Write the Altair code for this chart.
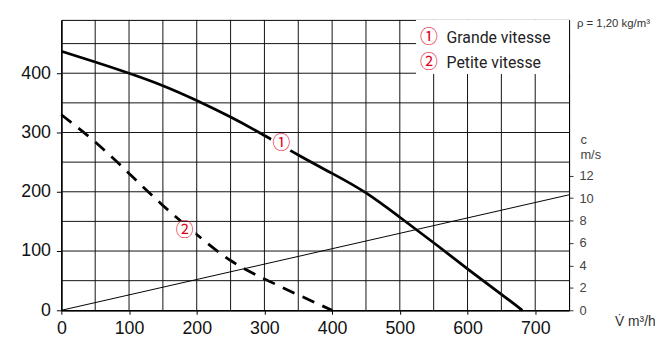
import altair as alt
import pandas as pd

# ---- data ----
flow1 = [0, 50, 100, 150, 200, 250, 300, 350, 400, 450, 500, 550, 600, 650, 681]
press1 = [437, 419, 400, 379, 354, 326, 295, 262, 231, 198, 157, 114, 70, 27, 0]

flow2 = [0, 50, 100, 150, 200, 250, 300, 350, 400]
press2 = [330, 284, 231, 177, 128, 84, 53, 26, 0]

vel_flow = [0, 750]
vel_c = [0, 10.3]

x_ticks = [0, 100, 200, 300, 400, 500, 600, 700]
y_ticks = [0, 100, 200, 300, 400]
c_ticks = [0, 2, 4, 6, 8, 10, 12]
grid_x = [50, 100, 150, 200, 250, 300, 350, 400, 450, 500, 550, 600, 650, 700]
grid_y = [50, 100, 150, 200, 250, 300, 350, 400, 450]

curve_lbl_flow = [325, 182]
curve_lbl_press = [281, 133]
curve_lbl_txt = ["\u2460", "\u2461"]

legend_flow = [543, 569]
legend_press = [459, 418]
legend_names = ["Grande vitesse", "Petite vitesse"]

rho_txt = "\u03c1 = 1,20 kg/m\u00b3"

FONT = "Liberation Sans"
RED = "#e3001b"
CIRC_FONT = "Noto Sans CJK JP"

c1 = pd.DataFrame({"q": flow1, "p": press1})
c2 = pd.DataFrame({"q": flow2, "p": press2})
vel = pd.DataFrame({"q": vel_flow, "c": vel_c})
gx = pd.DataFrame({"q": grid_x})
gy = pd.DataFrame({"p": grid_y})
clbl = pd.DataFrame({"q": curve_lbl_flow, "p": curve_lbl_press, "t": curve_lbl_txt})
lnum = pd.DataFrame({"q": [legend_flow[0]] * 2, "p": legend_press, "t": curve_lbl_txt})
lname = pd.DataFrame({"q": [legend_flow[1]] * 2, "p": legend_press, "t": legend_names})
box = pd.DataFrame({"q": [524], "q2": [750], "p": [398.5], "p2": [490]})
rho = pd.DataFrame({"q": [750], "p": [490], "t": [rho_txt]})

xscale = alt.Scale(domain=[0, 750], nice=False, zero=False)
yscale = alt.Scale(domain=[0, 490], nice=False, zero=False)
cscale = alt.Scale(domain=[0, 25.9], nice=False, zero=False)

x_axis = alt.Axis(
    values=x_ticks, grid=False, tickSize=4, tickColor="black", tickWidth=1,
    labelFontSize=18, labelPadding=5, labelColor="#111", labelFont=FONT,
    labelFlush=False, domainColor="black", domainWidth=1.5,
    title="V\u0307 m\u00b3/h", titleX=560, titleY=11, titleAlign="left",
    titleBaseline="middle", titleFontSize=14, titleFontWeight="normal",
    titleColor="#333", titleFont=FONT,
)
y_axis = alt.Axis(
    values=y_ticks, grid=False, tickSize=5, tickColor="black", tickWidth=1,
    labelFontSize=18, labelPadding=6, labelColor="#111", labelFont=FONT,
    domainColor="black", domainWidth=1.5, title=None,
)
c_axis = alt.Axis(
    orient="right", values=c_ticks, grid=False, tickSize=4, tickColor="#333",
    labelFontSize=13, labelPadding=6, labelColor="#444", labelFont=FONT,
    domainColor="black", domainWidth=1,
    title=["c", "m/s"], titleAngle=0, titleX=11, titleY=125, titleAlign="left",
    titleBaseline="alphabetic", titleFontSize=13, titleFontWeight="normal",
    titleColor="#444", titleFont=FONT, titleLineHeight=15,
)

X = alt.X("q:Q", scale=xscale, axis=x_axis)
Y = alt.Y("p:Q", scale=yscale, axis=y_axis)

curve1 = alt.Chart(c1).mark_line(color="black", strokeWidth=2.8, interpolate="natural").encode(x=X, y=Y)
curve2 = alt.Chart(c2).mark_line(
    color="black", strokeWidth=2.8, strokeDash=[13, 9], interpolate="natural"
).encode(x=X, y=Y)
knock = alt.Chart(clbl).mark_point(filled=True, color="white", opacity=1, size=520, shape="circle").encode(x=X, y=Y)
vgrid = alt.Chart(gx).mark_rule(color="#111", strokeWidth=1).encode(x=X)
hgrid = alt.Chart(gy).mark_rule(color="#111", strokeWidth=1).encode(y=Y)
legbox = alt.Chart(box).mark_rect(color="white").encode(x=X, x2="q2:Q", y=Y, y2="p2:Q")
lbl = alt.Chart(clbl).mark_text(color=RED, fontSize=18, font=CIRC_FONT, baseline="middle").encode(
    x=X, y=Y, text="t:N"
)
legnum = alt.Chart(lnum).mark_text(color=RED, fontSize=18, font=CIRC_FONT, baseline="middle").encode(
    x=X, y=Y, text="t:N"
)
legname = alt.Chart(lname).mark_text(
    color="#222", fontSize=16, font="Roboto", align="left", baseline="middle",
).encode(x=X, y=Y, text="t:N")
rhot = alt.Chart(rho).mark_text(
    color="#333", fontSize=11.5, font=FONT, align="left", baseline="middle", dx=8, dy=4,
).encode(x=X, y=Y, text="t:N")

left = alt.layer(curve1, curve2, knock, vgrid, hgrid, legbox, lbl, legnum, legname, rhot)

right = alt.Chart(vel).mark_line(color="black", strokeWidth=1).encode(
    x=X, y=alt.Y("c:Q", scale=cscale, axis=c_axis)
)

chart = (
    alt.layer(left, right)
    .resolve_scale(y="independent")
    .properties(
        width=514, height=294,
        autosize=alt.AutoSizeParams(type="none"),
        padding={"left": 54, "top": 10, "right": 87, "bottom": 26},
    )
    .configure_view(stroke="black", strokeWidth=1)
)

chart.save("out.html", embed_options={"renderer": "svg", "actions": False})
